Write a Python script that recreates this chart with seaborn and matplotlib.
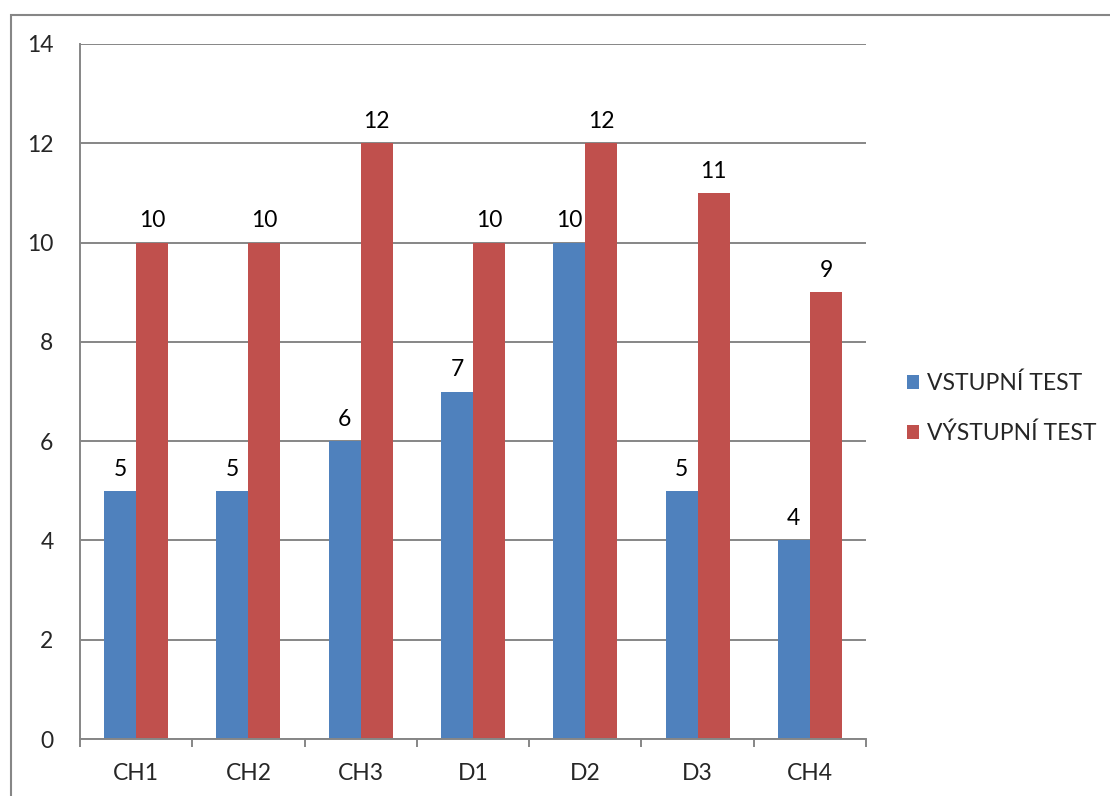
import numpy as np
import pandas as pd
import matplotlib.pyplot as plt
import matplotlib.patches as mpatches
import seaborn as sns

categories = ["CH1", "CH2", "CH3", "D1", "D2", "D3", "CH4"]
vstupni = [5, 5, 6, 7, 10, 5, 4]
vystupni = [10, 10, 12, 10, 12, 11, 9]
series_names = ["VSTUPNÍ TEST", "VÝSTUPNÍ TEST"]
colors = ["#4F81BD", "#C0504D"]

df = pd.DataFrame({
    "kategorie": categories * 2,
    "hodnota": vstupni + vystupni,
    "serie": [series_names[0]] * len(categories) + [series_names[1]] * len(categories),
})

sns.set_style("white")
plt.rcParams["font.family"] = ["Lato", "DejaVu Sans"]
fs = 16.5

fig = plt.figure(figsize=(11.1, 7.96), dpi=100)
ax = fig.add_axes([80 / 1110, 1 - 739 / 796, 786 / 1110, 695 / 796])

sns.barplot(data=df, x="kategorie", y="hodnota", hue="serie", order=categories,
            hue_order=series_names, palette=colors, width=0.571, gap=0,
            saturation=1, linewidth=0, ax=ax, legend=True)

for cont in ax.containers:
    ax.bar_label(cont, padding=8, fontsize=fs, color="black")

grey = "#868686"
ax.set_ylim(0, 14)
ax.set_xlim(-0.5, len(categories) - 0.5)
ax.set_yticks(range(0, 15, 2))
ax.yaxis.grid(True, color=grey, linewidth=1.4)
ax.set_axisbelow(True)
ax.set_xlabel("")
ax.set_ylabel("")

for s in ["top", "right"]:
    ax.spines[s].set_visible(False)
for s in ["left", "bottom"]:
    ax.spines[s].set_color(grey)
    ax.spines[s].set_linewidth(1.4)

ax.set_xticks(np.arange(-0.5, len(categories)), minor=True)
ax.tick_params(axis="x", which="major", length=0, pad=17, labelsize=fs)
ax.tick_params(axis="x", which="minor", length=6, color=grey, width=1.4, direction="out")
ax.tick_params(axis="y", length=6, color=grey, width=1.4, direction="out", pad=13, labelsize=fs)
ax.tick_params(axis="x", which="minor", bottom=True)

ax.legend(loc="center left", bbox_to_anchor=(1.04, 0.476), borderaxespad=0,
          frameon=False, fontsize=fs, handlelength=0.55, handleheight=0.55,
          handletextpad=0.35, labelspacing=1.25)

# outer chart frame (only left and top edge visible)
fig.patches.append(mpatches.Rectangle((11 / 1110, -0.1), 1.2, 1 - 15 / 796 + 0.1,
                                      transform=fig.transFigure, fill=False,
                                      edgecolor=grey, linewidth=1.5))

fig.savefig("out.png", dpi=100)
